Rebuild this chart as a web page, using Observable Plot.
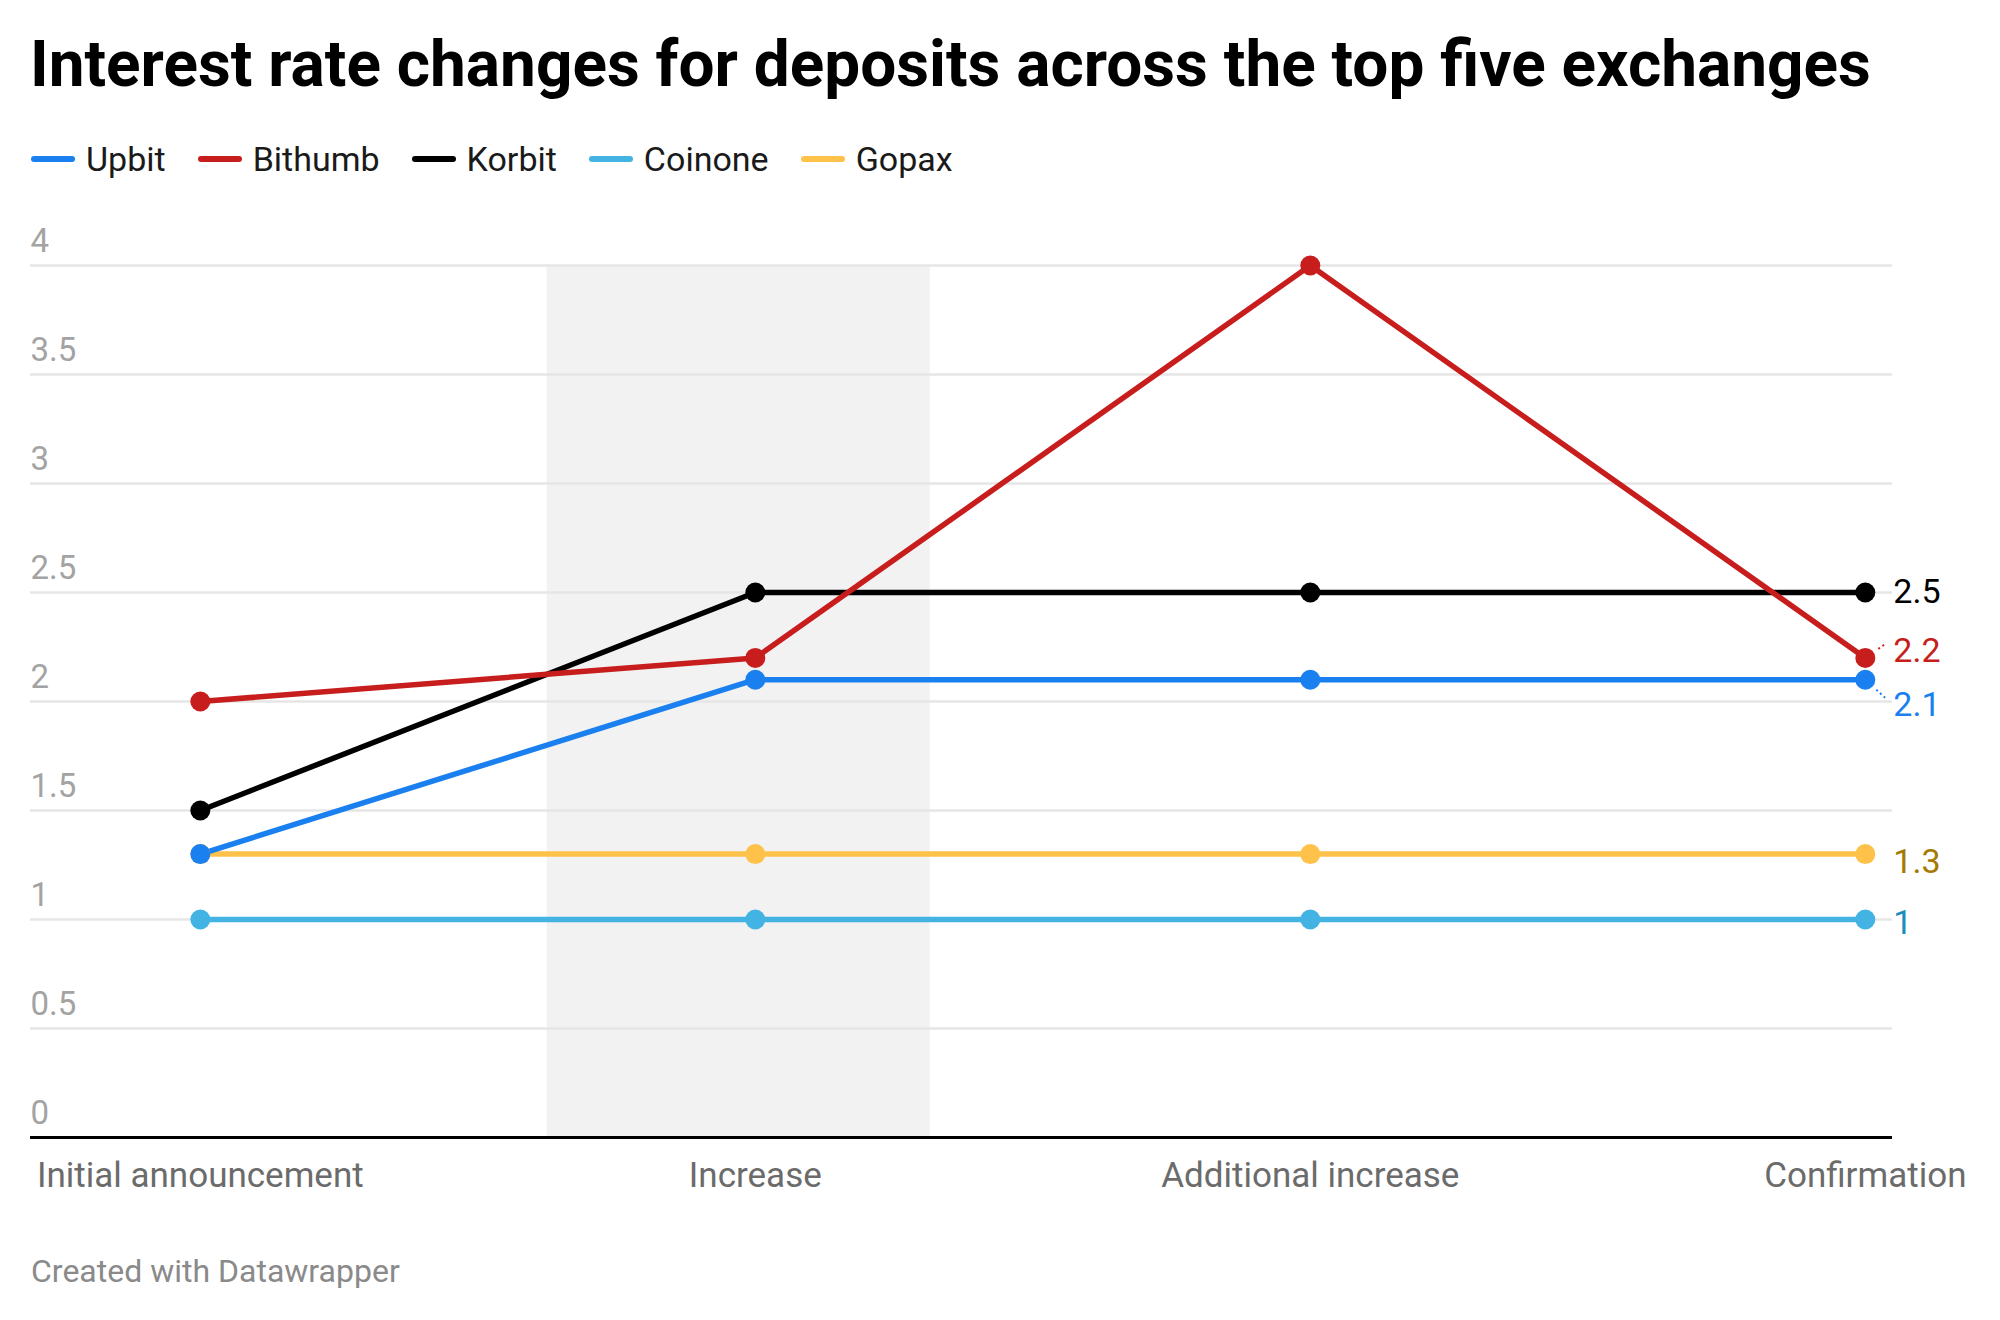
<!DOCTYPE html>
<html>
<head>
<meta charset="utf-8">
<script src="https://cdn.jsdelivr.net/npm/d3@7"></script>
<script src="https://cdn.jsdelivr.net/npm/@observablehq/plot@0.6"></script>
<style>
  html, body { margin: 0; padding: 0; background: #fff; }
  #page { position: relative; width: 2000px; height: 1320px; font-family: Roboto, "Noto Sans", sans-serif; }
  #title { position: absolute; left: 30px; top: 33px; font-size: 63.9px; line-height: 64px; font-weight: 700; color: #000; white-space: nowrap; }
  #legend { position: absolute; left: 31px; top: 142px; display: flex; align-items: center; font-size: 34px; line-height: 34px; color: #1a1a1a; }
  .item { display: flex; align-items: center; margin-right: 32px; }
  .sw { width: 44px; height: 6px; border-radius: 3px; margin-right: 11px; }
  #chart { position: absolute; left: 0; top: 200px; }
  #footer { position: absolute; left: 31px; top: 1255px; font-size: 32px; line-height: 32px; color: #8a8a8a; }
</style>
</head>
<body>
<div id="page">
  <div id="title">Interest rate changes for deposits across the top five exchanges</div>
  <div id="legend"></div>
  <div id="chart"></div>
  <div id="footer">Created with Datawrapper</div>
</div>
<script>
// ---- data ----
const categories = ["Initial announcement", "Increase", "Additional increase", "Confirmation"];
const seriesNames = ["Upbit", "Bithumb", "Korbit", "Coinone", "Gopax"];
const upbit   = [1.3, 2.1, 2.1, 2.1];
const bithumb = [2.0, 2.2, 4.0, 2.2];
const korbit  = [1.5, 2.5, 2.5, 2.5];
const coinone = [1.0, 1.0, 1.0, 1.0];
const gopax   = [1.3, 1.3, 1.3, 1.3];
const yTicks = [0, 0.5, 1, 1.5, 2, 2.5, 3, 3.5, 4];
const yTickLabels = ["0", "0.5", "1", "1.5", "2", "2.5", "3", "3.5", "4"];
const highlightRange = [0.625, 1.315]; // shaded period, in category-index units

// ---- styles ----
const lineColors  = ["#1a7fef", "#c71e1d", "#000000", "#43b3e3", "#fec24a"];
const labelColors = ["#1a7fef", "#c71e1d", "#000000", "#1b8dbf", "#a47a00"];
const labelDy     = [25, -7, 0, 4, 8]; // label nudges (px) to avoid overlaps

const values = [upbit, bithumb, korbit, coinone, gopax];
const rows = seriesNames.flatMap((s, si) => values[si].map((v, i) => ({series: s, si, i, v})));

// legend
const legend = document.getElementById("legend");
seriesNames.forEach((s, i) => {
  const it = document.createElement("div");
  it.className = "item";
  it.innerHTML = `<span class="sw" style="background:${lineColors[i]}"></span><span>${s}</span>`;
  legend.appendChild(it);
});

const W = 2000, H = 1010;
const mL = 30, mR = 108, mT = 65, mB = 73;
const step = (W - mL - mR) / (3 + 0.306 + 0.049);
const xDomain = [-0.306, 3.049];
const pyPerUnit = (H - mT - mB) / 4;

const drawOrder = [4, 3, 2, 1, 0];
const marks = [
  Plot.rect([highlightRange], {x1: d => d[0], x2: d => d[1], y1: 0, y2: 4, fill: "#f2f2f2"}),
  Plot.ruleY(yTicks.filter(t => t > 0), {stroke: "#e6e6e6", strokeWidth: 2.5}),
  Plot.text(yTicks, {y: d => d, text: (d, i) => yTickLabels[i], frameAnchor: "left", textAnchor: "start", lineAnchor: "bottom", dy: -14, fill: "#a3a3a3", fontSize: 33}),
  Plot.ruleY([0], {stroke: "#000", strokeWidth: 3}),
  Plot.text(categories, {x: (d, i) => i, text: d => d, frameAnchor: "bottom", lineAnchor: "bottom", dy: 49, fontSize: 35, fill: "#6b6b6b"})
];

for (const si of drawOrder) {
  const data = rows.filter(r => r.si === si);
  marks.push(Plot.line(data, {x: "i", y: "v", stroke: lineColors[si], strokeWidth: 5.5}));
}
for (const si of drawOrder) {
  const data = rows.filter(r => r.si === si);
  marks.push(Plot.dot(data, {x: "i", y: "v", r: 10, fill: lineColors[si], stroke: "none"}));
}
// tiny dotted connectors for nudged labels
const connectors = [
  {si: 1, x1: 3 + 13 / step, y1: 2.2 + 9 / pyPerUnit, x2: 3 + 20 / step, y2: 2.2 + 14 / pyPerUnit},
  {si: 0, x1: 3 + 11 / step, y1: 2.1 - 10 / pyPerUnit, x2: 3 + 22 / step, y2: 2.1 - 20 / pyPerUnit}
];
marks.push(Plot.link(connectors, {x1: "x1", y1: "y1", x2: "x2", y2: "y2", stroke: d => lineColors[d.si], strokeWidth: 2, strokeDasharray: "2,3"}));
for (const si of drawOrder) {
  const last = rows.filter(r => r.si === si && r.i === 3);
  marks.push(Plot.text(last, {x: "i", y: "v", text: d => String(d.v), dx: 28, dy: labelDy[si], textAnchor: "start", fill: labelColors[si], fontSize: 34}));
}

const chart = Plot.plot({
  width: W, height: H,
  marginLeft: mL, marginRight: mR, marginTop: mT, marginBottom: mB,
  x: {type: "linear", domain: xDomain, axis: null},
  y: {domain: [0, 4], axis: null},
  style: {fontFamily: "Roboto, 'Noto Sans', sans-serif", background: "transparent", overflow: "visible"},
  marks
});
document.getElementById("chart").appendChild(chart);
</script>
</body>
</html>
